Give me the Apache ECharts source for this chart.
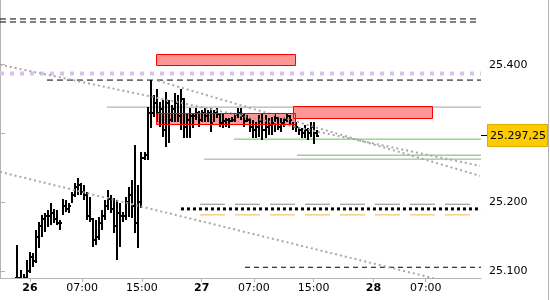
<!DOCTYPE html>
<html><head><meta charset="utf-8">
<script src="https://cdn.jsdelivr.net/npm/echarts@6/dist/echarts.min.js"></script>
<style>html,body{margin:0;padding:0;background:#fff}#c{width:550px;height:300px}</style>
</head><body><div id="c"></div>
<script>
// ---- axis data ----
const tickHours = [4, 11, 19, 27, 34, 42, 50, 57];
const tickLabels = ['26', '07:00', '15:00', '27', '07:00', '15:00', '28', '07:00'];
const dayLabels = ['26', '27', '28'];
const priceTicks = [25.1, 25.2, 25.3, 25.4, 25.5];
const hourMin = 0, hourMax = 64.4;
const priceMin = 25.0898, priceMax = 25.5;

// ---- OHLC bars ----
const firstBarHour = 2.34;
const barHours = 0.405;
const barHigh = [
 25.138,25.102,25.096,25.116,25.128,25.126,25.160,25.171,25.182,25.185,
 25.189,25.199,25.190,25.189,25.174,25.205,25.203,25.199,25.215,25.228,
 25.235,25.228,25.225,25.215,25.208,25.177,25.174,25.179,25.189,25.203,
 25.218,25.211,25.206,25.203,25.199,25.186,25.208,25.222,25.233,25.283,
 25.225,25.273,25.273,25.339,25.378,25.356,25.364,25.346,25.349,25.361,
 25.349,25.342,25.359,25.356,25.364,25.352,25.330,25.337,25.330,25.337,
 25.332,25.334,25.337,25.334,25.337,25.334,25.337,25.330,25.330,25.323,
 25.323,25.324,25.330,25.337,25.337,25.330,25.327,25.323,25.320,25.317,
 25.327,25.330,25.327,25.323,25.324,25.330,25.324,25.323,25.324,25.330,
 25.327,25.317,25.316,25.310,25.308,25.313,25.308,25.316,25.317,25.305];
const barLow = [
 25.075,25.075,25.075,25.075,25.097,25.106,25.112,25.134,25.150,25.157,
 25.164,25.167,25.170,25.167,25.160,25.182,25.186,25.185,25.199,25.208,
 25.211,25.211,25.203,25.174,25.171,25.135,25.138,25.145,25.160,25.174,
 25.189,25.185,25.155,25.116,25.135,25.171,25.174,25.179,25.177,25.155,
 25.134,25.192,25.262,25.262,25.308,25.324,25.316,25.310,25.295,25.281,
 25.286,25.316,25.316,25.316,25.305,25.294,25.294,25.294,25.308,25.320,
 25.310,25.317,25.317,25.316,25.302,25.316,25.323,25.310,25.308,25.310,
 25.308,25.316,25.316,25.323,25.320,25.310,25.316,25.302,25.294,25.294,
 25.295,25.291,25.294,25.298,25.298,25.302,25.305,25.302,25.310,25.316,
 25.313,25.305,25.302,25.298,25.294,25.294,25.291,25.295,25.284,25.295];
const barClose = [
 25.090,25.085,25.090,25.100,25.120,25.115,25.150,25.165,25.175,25.180,
 25.180,25.185,25.175,25.170,25.170,25.195,25.190,25.195,25.210,25.222,
 25.225,25.215,25.210,25.180,25.175,25.145,25.150,25.170,25.180,25.195,
 25.205,25.190,25.165,25.185,25.180,25.180,25.200,25.210,25.195,25.170,
 25.200,25.265,25.268,25.330,25.330,25.345,25.330,25.335,25.305,25.345,
 25.320,25.335,25.345,25.325,25.350,25.310,25.320,25.325,25.325,25.330,
 25.320,25.330,25.325,25.330,25.315,25.330,25.328,25.315,25.318,25.320,
 25.318,25.320,25.327,25.330,25.325,25.318,25.320,25.310,25.305,25.310,
 25.318,25.305,25.310,25.312,25.315,25.322,25.310,25.315,25.320,25.325,
 25.320,25.310,25.310,25.305,25.300,25.305,25.300,25.310,25.300,25.297];
const lastPrice = 25.29725;
const lastPriceLabel = '25.297,25';

// ---- drawn levels: [fromHour, toHour, price] ----
const upperDashedLevels = [[0, 63.86, 25.4666], [0, 63.86, 25.4622]];
const pivotDottedLevels = [[0, 64.4, 25.3873]];
const highDashedLevels = [[6.29, 64.4, 25.3777]];
const grayLevels = [[14.32, 64.4, 25.3384], [27.31, 64.4, 25.2627]];
const greenLevels = [[31.33, 64.4, 25.2918], [39.76, 64.4, 25.2685]];
const lowDottedLevels = [[24.23, 64.4, 25.1903]];
const grayDashedLevels = [[26.77, 62.92, 25.1971]];
const orangeDashedLevels = [[26.77, 62.92, 25.1816]];
const lowDashedLevels = [[32.80, 64.4, 25.1054]];
// zones: [fromHour, toHour, lowPrice, highPrice]
const zones = [[20.88, 39.49, 25.3990, 25.4156], [20.88, 39.49, 25.3136, 25.3297], [39.22, 57.83, 25.3224, 25.3403]];
// trendlines: [hour1, price1, hour2, price2]
const trendlines = [[0, 25.4, 64.26, 25.2529], [21.15, 25.3767, 64.26, 25.2384], [0, 25.2442, 64.26, 25.0729]];

const FONT = 'DejaVu Sans';
const chart = echarts.init(document.getElementById('c'));

function levelSeries(levels, lineStyle, z) {
  return levels.map(l => ({
    type: 'line', data: [[l[0], l[2]], [l[1], l[2]]], symbol: 'none', silent: true,
    animation: false, clip: true, z: z, lineStyle: lineStyle
  }));
}

const barData = barHigh.map((h, i) => [firstBarHour + i * barHours, h, barLow[i], barClose[i], i > 0 ? barClose[i - 1] : barClose[i]]);

const series = [];
series.push({
  type: 'custom', z: 1, silent: true, animation: false, clip: true,
  data: zones,
  renderItem(params, api) {
    const p1 = api.coord([api.value(0), api.value(3)]);
    const p2 = api.coord([api.value(1), api.value(2)]);
    return { type: 'rect', shape: { x: Math.round(p1[0]) + 0.5, y: Math.round(p1[1]) + 0.5, width: Math.round(p2[0] - p1[0]), height: Math.round(p2[1] - p1[1]) }, style: { fill: '#ff9696', stroke: null } };
  }
});
series.push(...levelSeries(upperDashedLevels, { color: '#000', width: 1, type: [6, 4] }, 2));
series.push(...levelSeries(pivotDottedLevels, { color: '#dcc0f0', width: 4, type: [4, 6] }, 2));
series.push(...levelSeries(highDashedLevels, { color: '#000', width: 1, type: [6, 4] }, 2));
series.push(...levelSeries(grayLevels, { color: '#a0a0a0', width: 1, type: 'solid' }, 2));
series.push(...levelSeries(greenLevels, { color: '#66c05a', width: 1, type: 'solid' }, 2));
series.push(...levelSeries(lowDottedLevels, { color: '#000', width: 3, type: [3, 3] }, 2));
series.push(...levelSeries(grayDashedLevels, { color: '#888', width: 1, type: [25, 10] }, 2));
series.push(...levelSeries(orangeDashedLevels, { color: '#f0b848', width: 1, type: [25, 10] }, 2));
series.push(...levelSeries(lowDashedLevels, { color: '#000', width: 1, type: [5, 4] }, 2));
series.push({
  type: 'custom', z: 3, silent: true, animation: false, clip: true,
  data: barData,
  renderItem(params, api) {
    const t = api.value(0);
    const x = Math.round(api.coord([t, 25.3])[0]);
    const yH = Math.round(api.coord([t, api.value(1)])[1]);
    const yL = Math.round(api.coord([t, api.value(2)])[1]);
    const yC = Math.round(api.coord([t, api.value(3)])[1]);
    const yO = Math.round(api.coord([t, api.value(4)])[1]);
    return { type: 'group', children: [
      { type: 'rect', shape: { x: x - 1, y: yH, width: 2, height: Math.max(2, yL - yH) }, style: { fill: '#000' } },
      { type: 'rect', shape: { x: x - 2, y: yO - 1, width: 1, height: 2 }, style: { fill: '#000' } },
      { type: 'rect', shape: { x: x + 1, y: yC - 1, width: 1, height: 2 }, style: { fill: '#000' } }
    ] };
  }
});
trendlines.forEach(tl => series.push({
  type: 'line', data: [[tl[0], tl[1]], [tl[2], tl[3]]], symbol: 'none', silent: true, animation: false, clip: true, z: 4,
  lineStyle: { color: '#a8a8a8', width: 2, type: [2, 3] }
}));
series.push({
  type: 'custom', z: 5, silent: true, animation: false, clip: true,
  data: zones,
  renderItem(params, api) {
    const p1 = api.coord([api.value(0), api.value(3)]);
    const p2 = api.coord([api.value(1), api.value(2)]);
    return { type: 'rect', shape: { x: Math.round(p1[0]) + 0.5, y: Math.round(p1[1]) + 0.5, width: Math.round(p2[0] - p1[0]), height: Math.round(p2[1] - p1[1]) }, style: { fill: null, stroke: '#ff0000', lineWidth: 1 } };
  }
});
series.push({
  type: 'custom', z: 20, silent: true, animation: false, clip: false,
  data: [[hourMax, lastPrice]],
  renderItem(params, api) {
    const cs = params.coordSys;
    const y = Math.round(api.coord([api.value(0), api.value(1)])[1]);
    const x0 = Math.round(cs.x + cs.width);
    return { type: 'group', children: [
      { type: 'line', shape: { x1: x0, y1: y + 0.5, x2: x0 + 6, y2: y + 0.5 }, style: { stroke: '#000', lineWidth: 1 } },
      { type: 'rect', shape: { x: x0 + 6.5, y: y - 10.5, width: 60, height: 22 }, style: { fill: '#fccc00', stroke: '#d8ad00', lineWidth: 1 } },
      { type: 'text', style: { x: x0 + 9, y: y + 1, text: lastPriceLabel, fill: '#000', font: '11px "' + FONT + '"', align: 'left', verticalAlign: 'middle' } }
    ] };
  }
});

chart.setOption({
  animation: false,
  backgroundColor: '#fff',
  grid: { left: 0, right: 69, top: -4, bottom: 22, containLabel: false, outerBoundsMode: 'none' },
  xAxis: {
    type: 'value', min: hourMin, max: hourMax,
    splitLine: { show: false },
    axisLine: { show: true, lineStyle: { color: '#b4b4b4', width: 1 } },
    axisTick: { show: true, length: 4, lineStyle: { color: '#b4b4b4' }, customValues: tickHours },
    axisLabel: {
      customValues: tickHours, margin: 5, color: '#000', fontFamily: FONT, fontSize: 11,
      formatter: v => {
        const i = tickHours.findIndex(h => Math.abs(h - v) < 1e-6);
        if (i < 0) return '';
        const s = tickLabels[i];
        return dayLabels.includes(s) ? '{d|' + s + '}' : s;
      },
      rich: { d: { fontWeight: 'bold', fontFamily: FONT, fontSize: 11, color: '#000' } }
    }
  },
  yAxis: {
    type: 'value', position: 'right', min: priceMin, max: priceMax,
    splitLine: { show: false },
    axisLine: { show: true, lineStyle: { color: '#b4b4b4', width: 1 } },
    axisTick: { show: true, length: 5, lineStyle: { color: '#b4b4b4' }, customValues: priceTicks },
    axisLabel: {
      customValues: priceTicks, margin: 8, color: '#000', fontFamily: FONT, fontSize: 11,
      formatter: v => v.toFixed(3)
    }
  },
  graphic: [{ type: 'line', shape: { x1: 548.5, y1: 0, x2: 548.5, y2: 300 }, style: { stroke: '#b4b4b4', lineWidth: 1 }, silent: true }],
  series: series
});
</script>
</body></html>
